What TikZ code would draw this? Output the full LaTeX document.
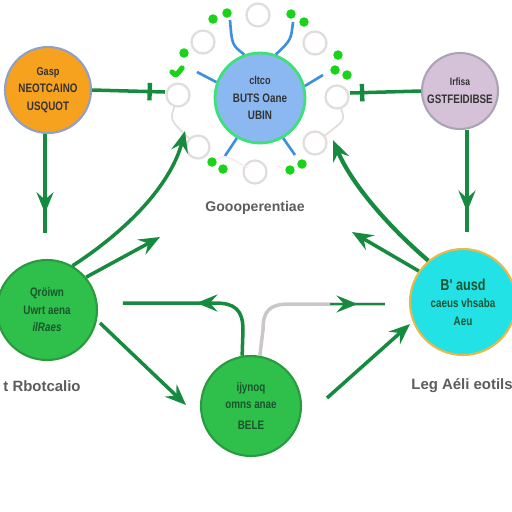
\documentclass[tikz,border=0pt]{standalone}
\usepackage{fontspec}
\setmainfont{Liberation Sans}
\newfontfamily\narrowf{Liberation Sans}[FakeStretch=0.8]
\usetikzlibrary{arrows.meta,decorations.markings}
\definecolor{corange}{HTML}{F6A21E}
\definecolor{borange}{HTML}{8FA0C8}
\definecolor{clilac}{HTML}{D5C2D8}
\definecolor{blilac}{HTML}{ABA3B6}
\definecolor{cblue}{HTML}{8CB8F2}
\definecolor{bblue}{HTML}{3EE07A}
\definecolor{cgreen}{HTML}{2EC04A}
\definecolor{bgreen}{HTML}{2A9A40}
\definecolor{ccyan}{HTML}{22E2E6}
\definecolor{bcyan}{HTML}{E8B848}
\definecolor{lgreen}{HTML}{168A3F}
\definecolor{ringgray}{HTML}{E2DDDD}
\definecolor{dotgreen}{HTML}{19D319}
\definecolor{spoke}{HTML}{3D8FE0}
\definecolor{txtgray}{HTML}{333333}
\definecolor{txtgreen}{HTML}{1C5430}
\begin{document}
\begin{tikzpicture}[x=0.02cm,y=-0.02cm,
  bigc/.style={circle, line width=1.2pt, inner sep=0pt, align=center,
    font=\narrowf\fontsize{7}{10}\selectfont\bfseries, text=txtgray},
  ring/.style={circle, draw=ringgray, line width=1.3pt, minimum size=0.46cm, inner sep=0pt},
  dot/.style={circle, fill=dotgreen, inner sep=0pt, minimum size=0.19cm},
  conn/.style={draw=lgreen, line width=2pt},
  spk/.style={draw=spoke, line width=1.5pt},
  midarrow/.style={postaction={decorate}, decoration={markings,
    mark=at position #1 with {\arrow{Stealth[length=4.2mm,width=3.4mm,inset=1.5mm]}}}},
  midbar/.style={postaction={decorate}, decoration={markings,
    mark=at position #1 with {\arrow{Bar[width=3.5mm,line width=2.5pt]}}}},
  endarrow/.style={-{Stealth[length=4.2mm,width=3.4mm,inset=1.5mm]}},
  lbl/.style={font=\fontsize{8.5}{10}\selectfont\bfseries, text=txtgray!80}
]
\useasboundingbox (0,0) rectangle (512,512);

% main circles
\node[bigc, fill=corange, draw=borange, minimum size=1.72cm] (orange) at (48,90)
  {\fontsize{6.5}{9}\selectfont Gasp\\NEOTCAINO\\USQUOT};
\node[bigc, fill=clilac, draw=blilac, minimum size=1.52cm] (lilac) at (460,91)
  {\fontsize{6}{10}\selectfont Irfisa\\GSTFEIDIBSE};
\node[bigc, fill=cblue, draw=bblue, minimum size=1.8cm, line width=1.6pt] (center) at (260,98)
  {\fontsize{6.5}{9}\selectfont cltco\\BUTS Oane\\UBIN};
\node[bigc, fill=cgreen, draw=bgreen, minimum size=2.0cm, text=txtgreen] (lgreenc) at (47,310)
  {Qröiwn\\Uwrt aena\\\itshape ilRaes};
\node[bigc, fill=cgreen, draw=bgreen, minimum size=2.0cm, text=txtgreen] (bgreenc) at (251,406)
  {ijynoq\\omns anae\\[2pt]BELE};
\node[bigc, fill=ccyan, draw=bcyan, minimum size=2.12cm, text=txtgreen] (cyan) at (463,302)
  {\fontsize{9}{11}\selectfont B' ausd\\caeus vhsaba\\Aeu};

% rings around center
\foreach \n/\x/\y in {r1/258/15, r2/203/42, r3/315/43, r4/178/95, r5/337/97, r6/198/147, r7/315/143, r8/255/172}
  \node[ring] (\n) at (\x,\y) {};

% spokes
\coordinate (s1) at (230,20);
\coordinate (s2) at (293,22);
\coordinate (s3) at (197,72);
\coordinate (s4) at (323,75);
\coordinate (s5) at (225,156);
\coordinate (s6) at (295,155);
\draw[spk] (center.110) .. controls (232,45) .. (s1);
\draw[spk] (center.70) .. controls (291,40) .. (s2);
\draw[spk] (center.160) -- (s3);
\draw[spk] (center.15) -- (s4);
\draw[spk] (center.240) -- (s5);
\draw[spk] (center.300) -- (s6);

% green dots
\foreach \n/\x/\y in {d1/227/13, d2/213/19, d3/291/14, d4/304/22, d5/184/53, d6/338/55, d7/335/70, d8/347/75, d9/212/162, d10/223/169, d11/290/170, d12/302/164}
  \node[dot] (\n) at (\x,\y) {};
\coordinate (sq1) at (172,72);
\coordinate (sq2) at (182,68);
\draw[dotgreen, line width=3pt, line cap=round] (sq1) .. controls (176,76) .. (sq2);
\coordinate (pk2) at (248,168);
\draw[ringgray!80!magenta!30, line width=0.8pt] (d9) .. controls (225,155) .. (pk2);
\coordinate (pk3) at (277,166);
\draw[ringgray!80!magenta!30, line width=0.8pt, dashed] (pk3) -- (d11);
\draw[ringgray, line width=1pt] (r4) .. controls (170,120) .. (r6);
\draw[ringgray, line width=1pt] (r5) .. controls (345,120) .. (r7);

% horizontal top connectors
\coordinate (ob) at (165,92);
\draw[conn, midbar=0.82] (orange.east) -- (ob);
\coordinate (lb) at (350,93);
\draw[conn, midbar=0.86] (lilac.west) -- (lb);

% vertical arrows
\coordinate (ov) at (45,233);
\draw[conn, midarrow=0.8] (orange.south -| ov) -- (ov);
\coordinate (lv) at (467,232);
\draw[conn, midarrow=0.8] (lilac.south -| lv) -- (lv);

% curved arrows to center
\coordinate (ce1) at (185,131);
\draw[conn, endarrow] (lgreenc.60) .. controls (135,225) and (172,180) .. (ce1);
\coordinate (ce2) at (333,140);
\draw[conn, line width=2.4pt, endarrow] (cyan.130) .. controls (390,228) and (352,185) .. (ce2);

% straight diagonal arrows
\coordinate (t1) at (160,237);
\draw[conn, endarrow] (lgreenc.40) -- (t1);
\coordinate (t2) at (352,232);
\draw[conn, endarrow] (cyan.145) -- (t2);
\coordinate (t3) at (186,405);
\coordinate (t3s) at (100,323);
\draw[conn, endarrow] (t3s) -- (t3);
\coordinate (t4) at (410,324);
\coordinate (t4s) at (327,398);
\draw[conn, endarrow] (t4s) -- (t4);

% bottom curved connectors
\coordinate (hl) at (123,303);
\draw[conn, midarrow=0.55] (bgreenc.100) -- (243,330) .. controls (243,310) and (235,303) .. (215,303) -- (hl);
\coordinate (hr) at (385,304);
\draw[ringgray!90!black, line width=2pt] (bgreenc.80) -- (263,330) .. controls (263,310) and (270,304) .. (290,304) -- (hr);
\coordinate (ga) at (330,304);
\draw[conn, line width=1.5pt, midarrow=0.5] (ga) -- (hr);

% labels
\node[lbl, font=\fontsize{8}{10}\selectfont\bfseries] (cl) at (255,208) {Goooperentiae};
\node[lbl] (ll) at (42,386) {t Rbotcalio};
\node[lbl] (rl) at (462,386) {Leg Aéli eotils};
\end{tikzpicture}
\end{document}
